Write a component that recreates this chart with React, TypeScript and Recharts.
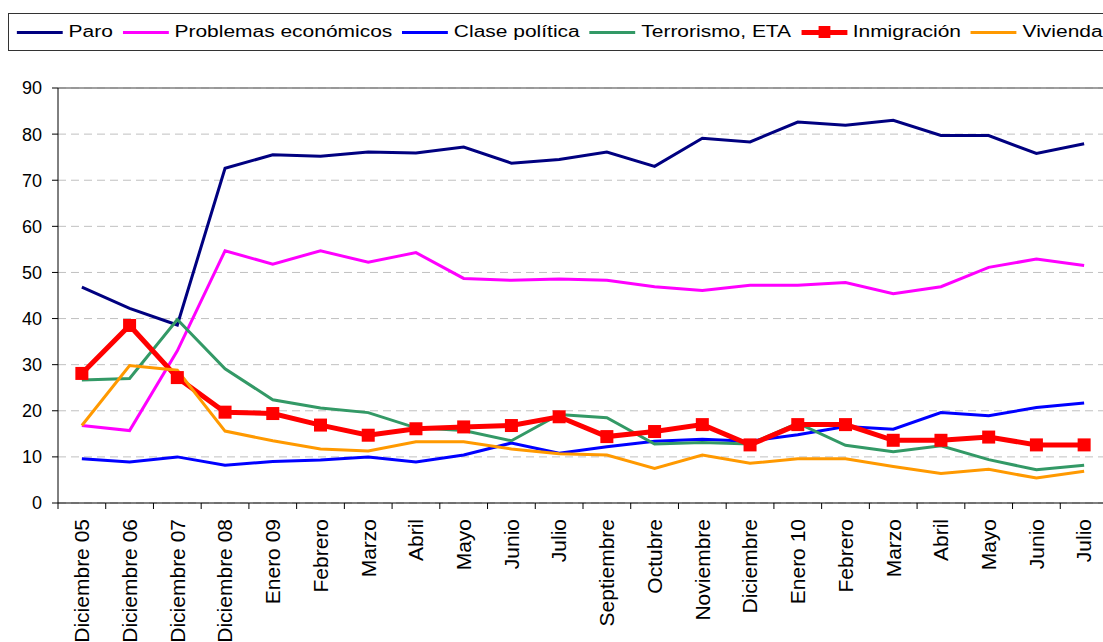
import { LineChart, Line, XAxis, YAxis, CartesianGrid, ReferenceLine } from 'recharts'

const labels = [
  'Diciembre 05', 'Diciembre 06', 'Diciembre 07', 'Diciembre 08', 'Enero 09', 'Febrero', 'Marzo',
  'Abril', 'Mayo', 'Junio', 'Julio', 'Septiembre', 'Octubre', 'Noviembre', 'Diciembre', 'Enero 10',
  'Febrero', 'Marzo', 'Abril', 'Mayo', 'Junio', 'Julio',
]

const paro = [46.8, 42.2, 38.6, 72.6, 75.5, 75.2, 76.1, 75.9, 77.2, 73.7, 74.5, 76.1, 73.0, 79.1, 78.3, 82.6, 81.9, 83.0, 79.7, 79.7, 75.8, 77.9]
const problemas = [16.8, 15.7, 33.0, 54.7, 51.8, 54.7, 52.2, 54.3, 48.7, 48.3, 48.6, 48.3, 46.9, 46.1, 47.2, 47.2, 47.8, 45.4, 46.9, 51.1, 52.9, 51.5]
const clase = [9.6, 8.9, 10.0, 8.2, 9.0, 9.3, 10.0, 8.9, 10.4, 13.0, 10.8, 12.2, 13.4, 13.8, 13.4, 14.8, 16.6, 16.0, 19.6, 18.9, 20.7, 21.7]
const terrorismo = [26.7, 27.0, 39.8, 29.1, 22.4, 20.6, 19.6, 16.3, 15.7, 13.5, 19.2, 18.5, 12.8, 13.1, 12.8, 17.3, 12.5, 11.1, 12.4, 9.4, 7.2, 8.2]
const inmigracion = [28.1, 38.5, 27.2, 19.7, 19.4, 16.9, 14.7, 16.1, 16.5, 16.8, 18.7, 14.4, 15.5, 17.0, 12.6, 17.0, 17.0, 13.6, 13.6, 14.3, 12.6, 12.6]
const vivienda = [16.8, 29.8, 28.8, 15.6, 13.5, 11.7, 11.3, 13.3, 13.3, 11.7, 10.7, 10.4, 7.5, 10.4, 8.6, 9.6, 9.6, 7.9, 6.4, 7.3, 5.4, 6.9]

const yTicks = [0, 10, 20, 30, 40, 50, 60, 70, 80, 90]

const series = [
  { key: 'paro', name: 'Paro', color: '#000080', width: 3 },
  { key: 'problemas', name: 'Problemas económicos', color: '#FF00FF', width: 3 },
  { key: 'clase', name: 'Clase política', color: '#0000FF', width: 3 },
  { key: 'terrorismo', name: 'Terrorismo, ETA', color: '#339966', width: 3 },
  { key: 'inmigracion', name: 'Inmigración', color: '#FF0000', width: 5, marker: true },
  { key: 'vivienda', name: 'Vivienda', color: '#FF9900', width: 3 },
]

const data = labels.map((label, i) => ({
  label,
  paro: paro[i],
  problemas: problemas[i],
  clase: clase[i],
  terrorismo: terrorismo[i],
  inmigracion: inmigracion[i],
  vivienda: vivienda[i],
}))

const CHART_W = 1120
const CHART_H = 642
const MARGIN = { top: 88, right: 12, left: 8, bottom: 0 }
const Y_AXIS_W = 50
const X_AXIS_H = 139
const PLOT_LEFT = MARGIN.left + Y_AXIS_W
const PLOT_W = CHART_W - MARGIN.right - PLOT_LEFT
const PLOT_BOTTOM = CHART_H - X_AXIS_H
const BAND = PLOT_W / labels.length

const FONT = '"Liberation Sans", Arial, sans-serif'

function XTick({ x, payload }: { x: number; payload: { value: string } }) {
  return (
    <g>
      <line x1={x - BAND / 2} x2={x - BAND / 2} y1={PLOT_BOTTOM} y2={PLOT_BOTTOM + 6} stroke="#000" strokeWidth={1} />
      <text
        transform={`translate(${x},${PLOT_BOTTOM + 16}) rotate(-90)`}
        textAnchor="end"
        dy="0.35em"
        fontSize={21}
        fontFamily={FONT}
        fill="#000"
      >
        {payload.value}
      </text>
    </g>
  )
}

function SquareDot({ cx, cy }: { cx?: number; cy?: number }) {
  if (cx == null || cy == null) return null
  return <rect x={cx - 6.5} y={cy - 6.5} width={13} height={13} fill="#FF0000" />
}

function LegendBox() {
  return (
    <div
      style={{
        position: 'absolute',
        left: 8,
        top: 13,
        width: 1200,
        height: 36,
        border: '1px solid #333',
        background: '#fff',
        fontFamily: FONT,
        fontSize: 16,
        zIndex: 2,
      }}
    >
      <div
        style={{
          display: 'flex',
          alignItems: 'center',
          height: '100%',
          transform: 'scaleX(1.31)',
          transformOrigin: 'left center',
          paddingLeft: 6,
          whiteSpace: 'nowrap',
        }}
      >
        {series.map((s) => (
          <div key={s.key} style={{ display: 'flex', alignItems: 'center', marginRight: 7.5 }}>
            <div style={{ position: 'relative', width: 35, height: 12, marginRight: 4.5 }}>
              <div
                style={{
                  position: 'absolute',
                  left: 0,
                  right: 0,
                  top: 6 - s.width / 2,
                  height: s.width,
                  background: s.color,
                }}
              />
              {s.marker && (
                <div style={{ position: 'absolute', left: 13, top: 0, width: 9.5, height: 12, background: s.color }} />
              )}
            </div>
            <span>{s.name}</span>
          </div>
        ))}
      </div>
    </div>
  )
}

export default function App() {
  return (
    <div
      style={{
        position: 'absolute',
        left: 0,
        top: 0,
        width: 1103,
        height: 642,
        overflow: 'hidden',
        background: '#fff',
      }}
    >
      <LegendBox />
      <LineChart width={CHART_W} height={CHART_H} data={data} margin={MARGIN}>
        <CartesianGrid vertical={false} stroke="#c0c0c0" strokeDasharray="8 5" />
        <XAxis
          dataKey="label"
          height={X_AXIS_H}
          interval={0}
          padding={{ left: BAND / 2, right: BAND / 2 }}
          tickLine={false}
          axisLine={{ stroke: '#000', strokeWidth: 1 }}
          tick={(props: any) => <XTick {...props} />}
        />
        <YAxis
          width={Y_AXIS_W}
          domain={[0, 90]}
          ticks={yTicks}
          interval={0}
          tickSize={6}
          tickMargin={10}
          axisLine={{ stroke: '#000', strokeWidth: 1 }}
          tickLine={{ stroke: '#000' }}
          tick={{ fontSize: 18, fontFamily: FONT, fill: '#000' }}
        />
        <ReferenceLine y={90} stroke="#808080" strokeWidth={1.5} />
        {series.map((s) => (
          <Line
            key={s.key}
            type="linear"
            dataKey={s.key}
            name={s.name}
            stroke={s.color}
            strokeWidth={s.width}
            dot={s.marker ? (props: any) => <SquareDot key={props.index} cx={props.cx} cy={props.cy} /> : false}
            activeDot={false}
            isAnimationActive={false}
          />
        ))}
      </LineChart>
    </div>
  )
}
